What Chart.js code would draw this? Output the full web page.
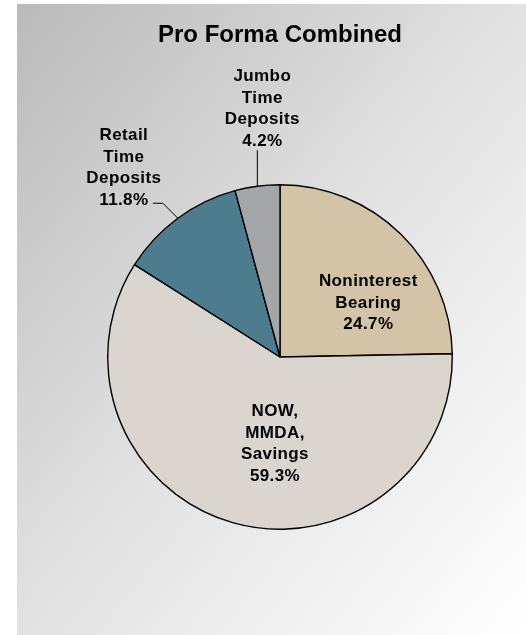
<!DOCTYPE html>
<html>
<head>
<meta charset="utf-8">
<script src="https://cdn.jsdelivr.net/npm/chart.js@4.4.0/dist/chart.umd.min.js"></script>
<style>
    body { margin: 0; background: #ffffff; }
    #panel {
        position: absolute; left: 17px; top: 4px; width: 509px; height: 631px;
        background: linear-gradient(to bottom right, #bababa 0%, #e2e2e2 50%, #ffffff 100%);
    }
    #wrap { position: absolute; left: 0; top: 0; width: 526px; height: 635px; }
</style>
</head>
<body>
<div id="panel"></div>
<div id="wrap"><canvas id="pieChart" width="526" height="635"></canvas></div>
<script>
// data
const categories = [
    ['Noninterest', 'Bearing'],
    ['NOW,', 'MMDA,', 'Savings'],
    ['Retail', 'Time', 'Deposits'],
    ['Jumbo', 'Time', 'Deposits']
];
const shares = [24.7, 59.3, 11.8, 4.2];
const sliceColors = ['#d3c4a7', '#dad5cf', '#4e7c8f', '#a5a6aa'];

// where each label goes (inside = polar spot, outside = leader line)
const labelPlacement = [
    { inside: true, angle: 58.7, frac: 0.60 },
    { inside: true, angle: 183.3, frac: 0.506 },
    { inside: false, leader: [[-15, -15], [-10, 0]], text: [-29, -3] },
    { inside: false, leader: [[0, -36]], text: [5, -9] }
];

const LINE_H = 21.5;
const LABEL_FONT = 'bold 17px "Liberation Sans", Arial, sans-serif';

const pieLabels = {
    id: 'pieLabels',
    afterDatasetsDraw(chart) {
        const ctx = chart.ctx;
        const arcs = chart.getDatasetMeta(0).data;
        ctx.save();
        ctx.font = LABEL_FONT;
        ctx.letterSpacing = '0.4px';
        ctx.fillStyle = '#000';
        ctx.textAlign = 'center';
        ctx.textBaseline = 'middle';
        arcs.forEach((arc, i) => {
            const p = arc.getProps(['x', 'y', 'startAngle', 'endAngle', 'outerRadius'], true);
            const lines = categories[i].concat([shares[i].toFixed(1) + '%']);
            const place = labelPlacement[i];
            if (place.inside) {
                // angle measured clockwise from 12 o'clock
                const a = place.angle * Math.PI / 180;
                const cx = p.x + Math.sin(a) * p.outerRadius * place.frac;
                const cy = p.y - Math.cos(a) * p.outerRadius * place.frac;
                const top = cy - (lines.length - 1) * LINE_H / 2;
                lines.forEach((t, k) => ctx.fillText(t, cx, top + k * LINE_H));
            } else {
                const mid = (p.startAngle + p.endAngle) / 2;
                let x = p.x + Math.cos(mid) * p.outerRadius;
                let y = p.y + Math.sin(mid) * p.outerRadius;
                ctx.beginPath();
                ctx.strokeStyle = '#000';
                ctx.lineWidth = 1;
                ctx.moveTo(x, y);
                place.leader.forEach(d => {
                    x += d[0];
                    y += d[1];
                    ctx.lineTo(x, y);
                });
                ctx.stroke();
                const bx = x + place.text[0];
                const by = y + place.text[1];
                const n = lines.length;
                lines.forEach((t, k) => ctx.fillText(t, bx, by - (n - 1 - k) * LINE_H));
            }
        });
        ctx.restore();
    }
};

new Chart(document.getElementById('pieChart'), {
    type: 'pie',
    data: {
        labels: categories.map(c => c.join(' ')),
        datasets: [{
            data: shares,
            backgroundColor: sliceColors,
            borderColor: '#000000',
            borderWidth: 1.4
        }]
    },
    options: {
        responsive: false,
        animation: false,
        layout: {
            padding: { left: 107, right: 73, top: 0, bottom: 105 }
        },
        plugins: {
            legend: { display: false },
            tooltip: { enabled: false },
            title: {
                display: true,
                text: 'Pro Forma Combined',
                color: '#000',
                font: { family: '"Liberation Sans", Arial, sans-serif', size: 24, weight: 'bold', lineHeight: 1.2 },
                padding: { top: 21, bottom: 134.2 }
            }
        }
    },
    plugins: [pieLabels]
});
</script>
</body>
</html>
